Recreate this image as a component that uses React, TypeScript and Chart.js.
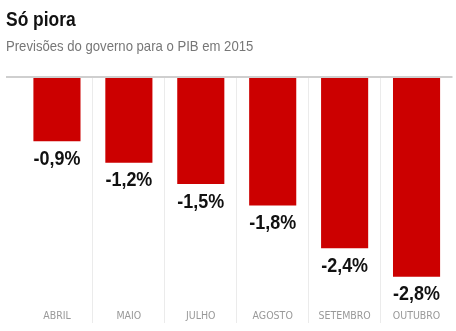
import React, { useEffect, useRef } from "react";
import { Chart, registerables } from "chart.js";

Chart.register(...registerables);

const TITLE = "Só piora";
const SUBTITLE = "Previsões do governo para o PIB em 2015";
const months = ["ABRIL", "MAIO", "JULHO", "AGOSTO", "SETEMBRO", "OUTUBRO"];
const pibForecast = [-0.9, -1.2, -1.5, -1.8, -2.4, -2.8];
const yMin = -3.44;
const yMax = 0;

const fmt = (v: number) => v.toFixed(1).replace(".", ",") + "%";

const valueLabels = {
  id: "valueLabels",
  afterDatasetsDraw(chart: any) {
    const { ctx } = chart;
    const meta = chart.getDatasetMeta(0);
    meta.data.forEach((bar: any, i: number) => {
      const v = chart.data.datasets[0].data[i] as number;
      ctx.save();
      ctx.font = "bold 19.5px 'Liberation Sans', Arial, sans-serif";
      ctx.fillStyle = "#111111";
      ctx.textAlign = "center";
      ctx.textBaseline = "alphabetic";
      ctx.translate(bar.x, bar.y + 23.5);
      ctx.scale(0.92, 1);
      ctx.fillText(fmt(v), 0, 0);
      ctx.restore();
    });
  },
};

export default function App() {
  const ref = useRef<HTMLCanvasElement | null>(null);

  useEffect(() => {
    if (!ref.current) return;
    const chart = new Chart(ref.current, {
      type: "bar",
      data: {
        labels: months,
        datasets: [
          {
            data: pibForecast,
            backgroundColor: "#cc0000",
            borderWidth: 0,
            categoryPercentage: 1,
            barPercentage: 0.655,
          },
        ],
      },
      options: {
        responsive: false,
        animation: false,
        devicePixelRatio: 1,
        layout: { padding: { top: 77, left: 6, right: 3.5, bottom: 8.5 } },
        plugins: {
          legend: { display: false },
          tooltip: { enabled: false },
          title: { display: false },
        },
        scales: {
          x: {
            grid: {
              offset: true,
              drawTicks: false,
              lineWidth: 1,
              color: (c: any) =>
                c.type === "tick" && c.index > 0 ? "#ebebeb" : "rgba(0,0,0,0)",
            },
            border: { display: false },
            ticks: {
              mirror: true,
              padding: 0,
              color: "#999999",
              font: {
                family: "'DejaVu Sans Condensed', 'Liberation Sans Narrow', 'Liberation Sans', sans-serif",
                size: 10.5,
              },
              maxRotation: 0,
              autoSkip: false,
            },
          },
          y: {
            min: yMin,
            max: yMax,
            position: "left",
            grid: {
              drawTicks: true,
              tickLength: 15,
              lineWidth: 2,
              color: (c: any) =>
                c.tick && c.tick.value === 0 ? "#cfcfcf" : "rgba(0,0,0,0)",
            },
            border: { display: false },
            ticks: { display: false },
          },
        },
      },
      plugins: [valueLabels],
    });
    return () => chart.destroy();
  }, []);

  return (
    <div style={{ position: "absolute", left: 0, top: 0, width: 456, height: 331, background: "#fff", overflow: "hidden" }}>
      <canvas ref={ref} width={456} height={331} style={{ position: "absolute", left: 0, top: 0 }} />
      <div
        style={{
          position: "absolute",
          left: 6,
          top: 7.7,
          fontFamily: "'Liberation Sans', Arial, sans-serif",
          fontWeight: "bold",
          fontSize: 21,
          lineHeight: "21px",
          color: "#111",
          whiteSpace: "nowrap",
          transform: "scaleX(0.83)",
          transformOrigin: "0 0",
        }}
      >
        {TITLE}
      </div>
      <div
        style={{
          position: "absolute",
          left: 6,
          top: 39.2,
          fontFamily: "'Liberation Sans', Arial, sans-serif",
          fontSize: 14.5,
          lineHeight: "14.5px",
          color: "#777777",
          whiteSpace: "nowrap",
          transform: "scaleX(0.905)",
          transformOrigin: "0 0",
        }}
      >
        {SUBTITLE}
      </div>
    </div>
  );
}
